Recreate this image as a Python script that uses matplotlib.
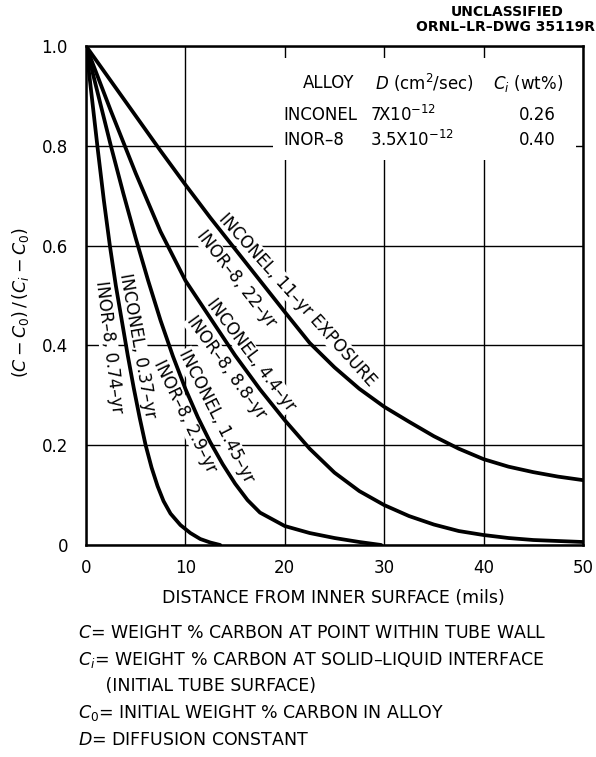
import matplotlib
matplotlib.use("Agg")
import matplotlib.pyplot as plt
from matplotlib.patches import Rectangle

plt.rcParams['font.family'] = ['DejaVu Sans']
plt.rcParams['mathtext.fontset'] = 'dejavusans'

# ---- data ----
# curve A: INOR-8 0.74-yr / INCONEL 0.37-yr
xa = [0, 0.6, 1.2, 1.8, 2.4, 3.0, 3.6, 4.2, 4.8, 5.4, 6.0, 6.6, 7.2, 7.8, 8.5, 9.5, 10.5, 11.5, 12.5, 13.5]
ya = [1.0, 0.895, 0.79, 0.69, 0.6, 0.52, 0.45, 0.38, 0.315, 0.255, 0.2, 0.155, 0.118, 0.088, 0.063, 0.04, 0.024, 0.012, 0.005, 0.0]
# curve B: INCONEL 1.45-yr / INOR-8 2.9-yr
xb = [0, 1.25, 2.5, 3.75, 5.0, 6.25, 7.5, 8.75, 10.0, 11.25, 12.5, 13.75, 15.0, 16.25, 17.5, 20.0, 22.5, 25.0, 27.5, 29.7]
yb = [1.0, 0.9, 0.8, 0.705, 0.615, 0.53, 0.45, 0.378, 0.313, 0.256, 0.206, 0.162, 0.123, 0.09, 0.065, 0.038, 0.024, 0.014, 0.006, 0.0]
# curve C: INCONEL 4.4-yr / INOR-8 8.8-yr
xc = [0, 2.5, 5.0, 7.5, 10.0, 12.5, 15.0, 17.5, 20.0, 22.5, 25.0, 27.5, 30.0, 32.5, 35.0, 37.5, 40.0, 42.5, 45.0, 47.5, 50.0]
yc = [1.0, 0.87, 0.745, 0.628, 0.53, 0.455, 0.38, 0.312, 0.25, 0.193, 0.145, 0.108, 0.08, 0.058, 0.041, 0.028, 0.02, 0.014, 0.01, 0.008, 0.006]
# curve D: INCONEL 11-yr / INOR-8 22-yr
xd = [0, 2.5, 5.0, 7.5, 10.0, 12.5, 15.0, 17.5, 20.0, 22.5, 25.0, 27.5, 30.0, 32.5, 35.0, 37.5, 40.0, 42.5, 45.0, 47.5, 50.0]
yd = [1.0, 0.93, 0.86, 0.79, 0.722, 0.656, 0.593, 0.53, 0.467, 0.405, 0.356, 0.313, 0.277, 0.247, 0.218, 0.193, 0.172, 0.157, 0.146, 0.137, 0.13]

x_ticks = [0, 10, 20, 30, 40, 50]
x_ticklabels = ["0", "10", "20", "30", "40", "50"]
y_ticks = [0, 0.2, 0.4, 0.6, 0.8, 1.0]
y_ticklabels = ["0", "0.2", "0.4", "0.6", "0.8", "1.0"]

curve_labels = [
    "INCONEL, 11–yr EXPOSURE", "INOR–8, 22–yr",
    "INCONEL, 4.4–yr", "INOR–8, 8.8–yr",
    "INCONEL, 1.45–yr", "INOR–8, 2.9–yr",
    "INCONEL, 0.37–yr", "INOR–8, 0.74–yr",
]

table_alloys = ["INCONEL", "INOR–8"]
table_D = [r"7X10$^{-12}$", r"3.5X10$^{-12}$"]
table_Ci = ["0.26", "0.40"]

footnotes = [
    r"$C$= WEIGHT % CARBON AT POINT WITHIN TUBE WALL",
    r"$C_i$= WEIGHT % CARBON AT SOLID–LIQUID INTERFACE",
    "     (INITIAL TUBE SURFACE)",
    r"$C_0$= INITIAL WEIGHT % CARBON IN ALLOY",
    r"$D$= DIFFUSION CONSTANT",
]

# ---- figure ----
W, H = 596, 757
fig = plt.figure(figsize=(W / 100, H / 100), dpi=100)
fig.patch.set_facecolor("white")

def fx(px):
    return px / W

def fy(py):
    return 1 - py / H

L, R, T, B = 86, 583, 46, 545
ax = fig.add_axes([fx(L), fy(B), fx(R) - fx(L), fy(T) - fy(B)])
ax.set_xlim(0, 50)
ax.set_ylim(0, 1.0)
ax.set_xticks(x_ticks)
ax.set_xticklabels(x_ticklabels)
ax.set_yticks(y_ticks)
ax.set_yticklabels(y_ticklabels)
ax.tick_params(length=0, labelsize=12)
ax.tick_params(axis='x', pad=10)
ax.tick_params(axis='y', pad=13)
ax.grid(True, color="black", linewidth=1.0, zorder=0.5)
ax.set_axisbelow(True)
for s in ax.spines.values():
    s.set_linewidth(1.8)
    s.set_zorder(5)

# white area behind the table
ax.add_patch(Rectangle((18.8, 0.771), 30.5, 0.205, facecolor="white",
                       edgecolor="none", zorder=1))

for xs, ys in [(xa, ya), (xb, yb), (xc, yc), (xd, yd)]:
    ax.plot(xs, ys, color="black", linewidth=2.7, zorder=4,
            solid_joinstyle="round", solid_capstyle="round")

# curve labels (data position, rotation)
label_pos = [
    (21.3, 0.491, -48), (15.1, 0.533, -52),
    (16.6, 0.381, -53), (14.1, 0.355, -54),
    (13.1, 0.259, -63), (10.0, 0.257, -64),
    (5.2, 0.399, -80), (2.3, 0.397, -83),
]
for txt, (lx, ly, rot) in zip(curve_labels, label_pos):
    ax.text(lx, ly, txt, rotation=rot, rotation_mode="anchor",
            ha="center", va="center", fontsize=12, zorder=2,
            bbox=dict(facecolor="white", edgecolor="none", pad=0.5))

# table
fs_t = 12
fig.text(fx(329), fy(83), "ALLOY", ha="center", va="center", fontsize=fs_t)
fig.text(fx(424), fy(83), r"$D$ (cm$^2$/sec)", ha="center", va="center", fontsize=fs_t)
fig.text(fx(528), fy(83), r"$C_i$ (wt%)", ha="center", va="center", fontsize=fs_t)
row_y = [115, 140]
for a, d, c, ry in zip(table_alloys, table_D, table_Ci, row_y):
    fig.text(fx(283), fy(ry), a, ha="left", va="center", fontsize=fs_t)
    fig.text(fx(370), fy(ry), d, ha="left", va="center", fontsize=fs_t)
    fig.text(fx(537), fy(ry), c, ha="center", va="center", fontsize=fs_t)

# header stamp
fig.text(fx(507), fy(12), "UNCLASSIFIED", ha="center", va="center",
         fontsize=10, fontweight="bold")
fig.text(fx(595), fy(27), "ORNL–LR–DWG 35119R", ha="right", va="center",
         fontsize=10, fontweight="bold")

# axis labels
fig.text(fx(333), fy(598), "DISTANCE FROM INNER SURFACE (mils)", ha="center",
         va="center", fontsize=12.5)
fig.text(fx(21), fy(303), r"$(C-C_0)\,/\,(C_i-C_0)$", ha="center", va="center",
         rotation=90, fontsize=12.5)

# footnotes
foot_y = [633, 660, 686, 713, 740]
for t, yy in zip(footnotes, foot_y):
    fig.text(fx(78), fy(yy), t, ha="left", va="center", fontsize=12.5)

fig.savefig("out.png", dpi=100, facecolor="white")
